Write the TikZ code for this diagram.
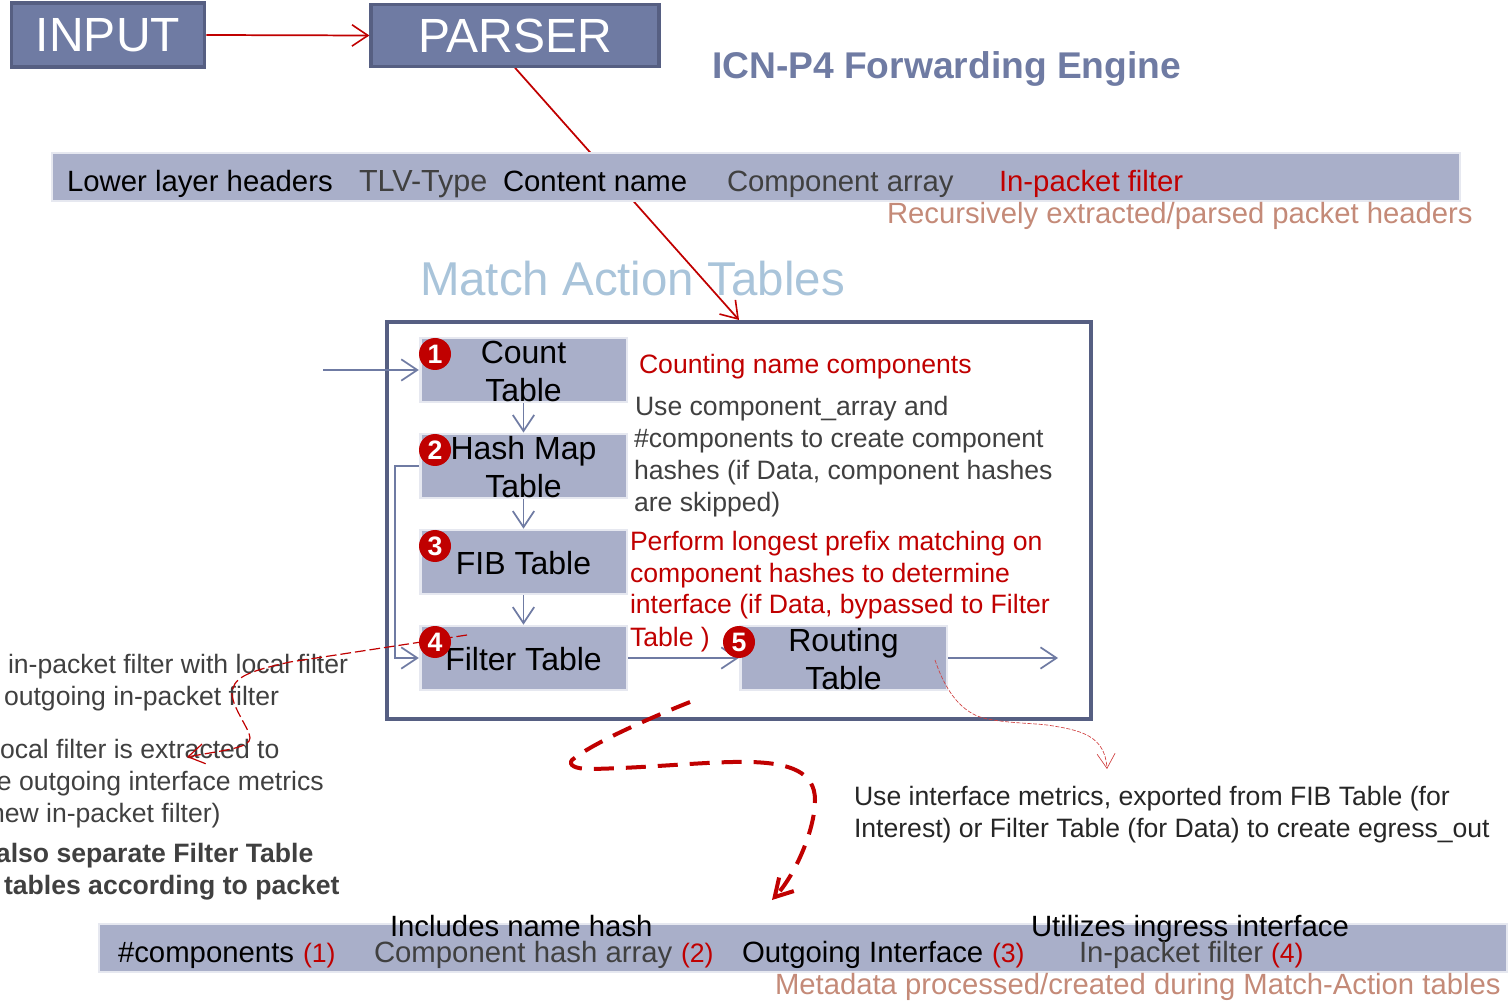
\documentclass[tikz,border=0pt]{standalone}
\usepackage{fontspec}
\setmainfont{Liberation Sans}
\usetikzlibrary{arrows.meta,backgrounds}
\definecolor{hdr}{HTML}{6F7BA3}
\definecolor{hdrb}{HTML}{565F82}
\definecolor{band}{HTML}{A9AFC9}
\definecolor{bandb}{HTML}{E6E8F0}
\definecolor{rd}{HTML}{C00000}
\definecolor{gry}{HTML}{404040}
\definecolor{salmon}{HTML}{C48A78}
\definecolor{mat}{HTML}{A9C4DA}
\newcommand\szA{\fontsize{19.95pt}{20pt}\selectfont}
\newcommand\szB{\fontsize{22pt}{22pt}\selectfont}
\newcommand\szC{\fontsize{24pt}{28.5pt}\selectfont}
\newcommand\szR{\fontsize{20pt}{22pt}\selectfont}
\newcommand\tworow{\rule{0pt}{19.5pt}}
\newcommand\onerow{\rule{0pt}{18.7pt}}
\tikzset{
  lab/.style={anchor=base west,inner sep=0pt,outer sep=0pt},
  small/.style={lab,font=\szA},
  bandtxt/.style={lab,font=\szB},
  topbox/.style={draw=hdrb,fill=hdr,line width=2.4pt,text=white,inner sep=0pt,font=\fontsize{36pt}{36pt}\selectfont},
  strip/.style={draw=bandb,fill=band,line width=2pt,inner sep=0pt},
  tbl/.style={draw=bandb,fill=band,line width=2pt,inner sep=0pt,minimum width=155pt,minimum height=48pt,align=center,font=\szC,text=black},
  num/.style={circle,fill=rd,text=white,inner sep=0pt,minimum size=24pt,font=\bfseries\fontsize{20pt}{20pt}\selectfont},
  flow/.style={draw=hdr,line width=1.3pt,-{Straight Barb[length=12pt,width=16pt,line width=1.3pt]}},
  redflow/.style={draw=rd,line width=1.3pt,-{Straight Barb[length=12pt,width=16pt,line width=1.2pt]}},
}
\begin{document}
\begin{tikzpicture}[x=0.75pt,y=-0.75pt]
\useasboundingbox (0,0) rectangle (1511,1005);
% top boxes
\node[topbox,minimum width=145pt,minimum height=48pt] (input) at (108,35) {INPUT};
\node[topbox,minimum width=216pt,minimum height=46pt] (parser) at (515,35.5) {PARSER};
\node[lab,font=\bfseries\fontsize{27.9pt}{28pt}\selectfont,text=hdr] (title) at (712,79) {ICN-P4 Forwarding Engine};
% header band
\node[strip,minimum width=1056pt,minimum height=36pt] (hband) at (756,177) {};
\node[bandtxt,text=black] (h1) at (67,192) {Lower layer headers};
\node[bandtxt,text=gry,font=\fontsize{22.9pt}{23pt}\selectfont] (h2) at (359,192) {TLV-Type};
\node[bandtxt,text=black] (h3) at (503,192) {Content name};
\node[bandtxt,text=gry] (h4) at (727,192) {Component array};
\node[bandtxt,text=rd] (h5) at (999,192) {In-packet filter};
\node[lab,font=\fontsize{21.95pt}{22pt}\selectfont,text=salmon] (rec) at (887,224) {Recursively extracted/parsed packet headers};
\node[lab,font=\fontsize{35.6pt}{36pt}\selectfont,text=mat] (mat) at (420,296) {Match Action Tables};
% main frame
\node[draw=hdrb,line width=3pt,inner sep=0pt,minimum width=528pt,minimum height=297.75pt] (frame) at (739,520.5) {};
% tables
\node[tbl] (count) at (523.5,370) {\tworow Count\\Table};
\node[tbl] (hash) at (523.5,466) {\tworow Hash Map\\Table};
\node[tbl] (fib) at (523.5,562) {\onerow FIB Table};
\node[tbl] (filter) at (523.5,658) {\onerow Filter Table};
\node[tbl] (routing) at (843.5,658) {\tworow Routing\\Table};
\coordinate (ext) at (323,370);
\coordinate (out) at (1058,658);
\begin{pgfonlayer}{background}
\draw[redflow] (parser.south) -- (frame.north);
\end{pgfonlayer}
\draw[redflow] (input.east) -- (parser.west);
\draw[flow] (ext) -- (count.west);
\draw[flow] (count.south) -- (hash.north);
\draw[flow] (hash.south) -- (fib.north);
\draw[flow] (fib.south) -- (filter.north);
\draw[flow] (hash.west) -- ++(-24,0) |- (filter.west);
\draw[flow] (filter.east) -- (routing.west);
\draw[flow] (routing.east) -- (out);
% descriptions
\node[small,text=rd] (c1) at (639,374) {Counting name components};
\node[small,text=gry] (u1) at (635,416) {Use component\_array and};
\node[small,text=gry] (u2) at (634,448) {\#components to create component};
\node[small,text=gry] (u3) at (634,480) {hashes (if Data, component hashes};
\node[small,text=gry] (u4) at (634,512) {are skipped)};
\node[small,text=rd] (p1) at (630,551) {Perform longest prefix matching on};
\node[small,text=rd] (p2) at (630,582) {component hashes to determine};
\node[small,text=rd] (p3) at (630,614) {interface (if Data, bypassed to Filter};
\node[small,text=rd] (p4) at (630,646) {Table )};
\node[small,text=black!85] (m1) at (854,805) {Use interface metrics, exported from FIB Table (for};
\node[small,text=black!85] (m2) at (854,837) {Interest) or Filter Table (for Data) to create egress\_out};
% left clipped text
\node[small,text=gry] (l1) at (8,673) {in-packet filter with local filter};
\node[small,text=gry] (l2) at (4,705) {outgoing in-packet filter};
\node[small,text=gry] (l3) at (0,758) {ocal filter is extracted to};
\node[small,text=gry] (l4) at (-3,790) {e outgoing interface metrics};
\node[small,text=gry] (l5) at (-10,822) {new in-packet filter)};
\node[small,text=gry,font=\szA\bfseries] (l6) at (-4,862) {also separate Filter Table};
\node[small,text=gry,font=\szA\bfseries] (l7) at (4,894) {tables according to packet};
% metadata band
\node[strip,minimum width=1056pt,minimum height=36pt] (mband) at (803,948) {};
\node[bandtxt,text=black] (b0) at (390,936) {Includes name hash};
\node[bandtxt,text=black] (b1) at (1031,936) {Utilizes ingress interface};
\node[bandtxt,text=black] (m1b) at (118,962) {\#components};
\node[lab,font=\szR,text=rd] (r1) at (303,962) {(1)};
\node[bandtxt,text=gry] (m2b) at (374,962) {Component hash array};
\node[lab,font=\szR,text=rd] (r2) at (681,962) {(2)};
\node[bandtxt,text=black] (m3b) at (742,962) {Outgoing Interface};
\node[lab,font=\szR,text=rd] (r3) at (992,962) {(3)};
\node[bandtxt,text=gry] (m4b) at (1079,962) {In-packet filter};
\node[lab,font=\szR,text=rd] (r4) at (1271,962) {(4)};
\node[lab,font=\fontsize{21.95pt}{22pt}\selectfont,text=salmon] (meta) at (775,994) {Metadata processed/created during Match-Action tables};
% dashed curves
\coordinate (fa) at (467,635);
\coordinate (fb) at (187,757);
\draw[draw=rd,line width=0.9pt,dash pattern=on 8pt off 3pt,-{Straight Barb[length=12pt,width=15pt,line width=0.9pt]}]
  (fa) -- (290,662) .. controls (245,672) and (232,678) .. (232,695)
  .. controls (234,710) and (250,730) .. (250,738)
  .. controls (250,748) and (225,750) .. (fb);
\coordinate (ra) at (690,702);
\coordinate (rb) at (772,900);
\draw[draw=rd,line width=3pt,dash pattern=on 15pt off 9pt,-{Straight Barb[length=13pt,width=15pt,line width=3pt]}]
  (ra) .. controls (640,722) and (590,745) .. (572,760)
  .. controls (568,765) and (575,769) .. (590,769)
  .. controls (650,768) and (710,761) .. (750,762)
  .. controls (790,763) and (815,772) .. (815,800)
  .. controls (815,830) and (795,875) .. (rb);
\coordinate (sa) at (935,660);
\coordinate (sb) at (1107,769);
\draw[draw=rd!75,line width=0.5pt,dash pattern=on 3pt off 1.2pt,-{Straight Barb[length=11pt,width=13.5pt,line width=0.5pt]}]
  (sa) .. controls (945,690) and (960,710) .. (980,717)
  .. controls (1000,723) and (1030,723) .. (1047,725)
  .. controls (1080,730) and (1105,735) .. (sb);
% number badges
\node[num] (n1) at (435,354) {1};
\node[num] (n2) at (435,450) {2};
\node[num] (n3) at (435,546) {3};
\node[num] (n4) at (435,642) {4};
\node[num] (n5) at (739,642) {5};
\end{tikzpicture}
\end{document}
